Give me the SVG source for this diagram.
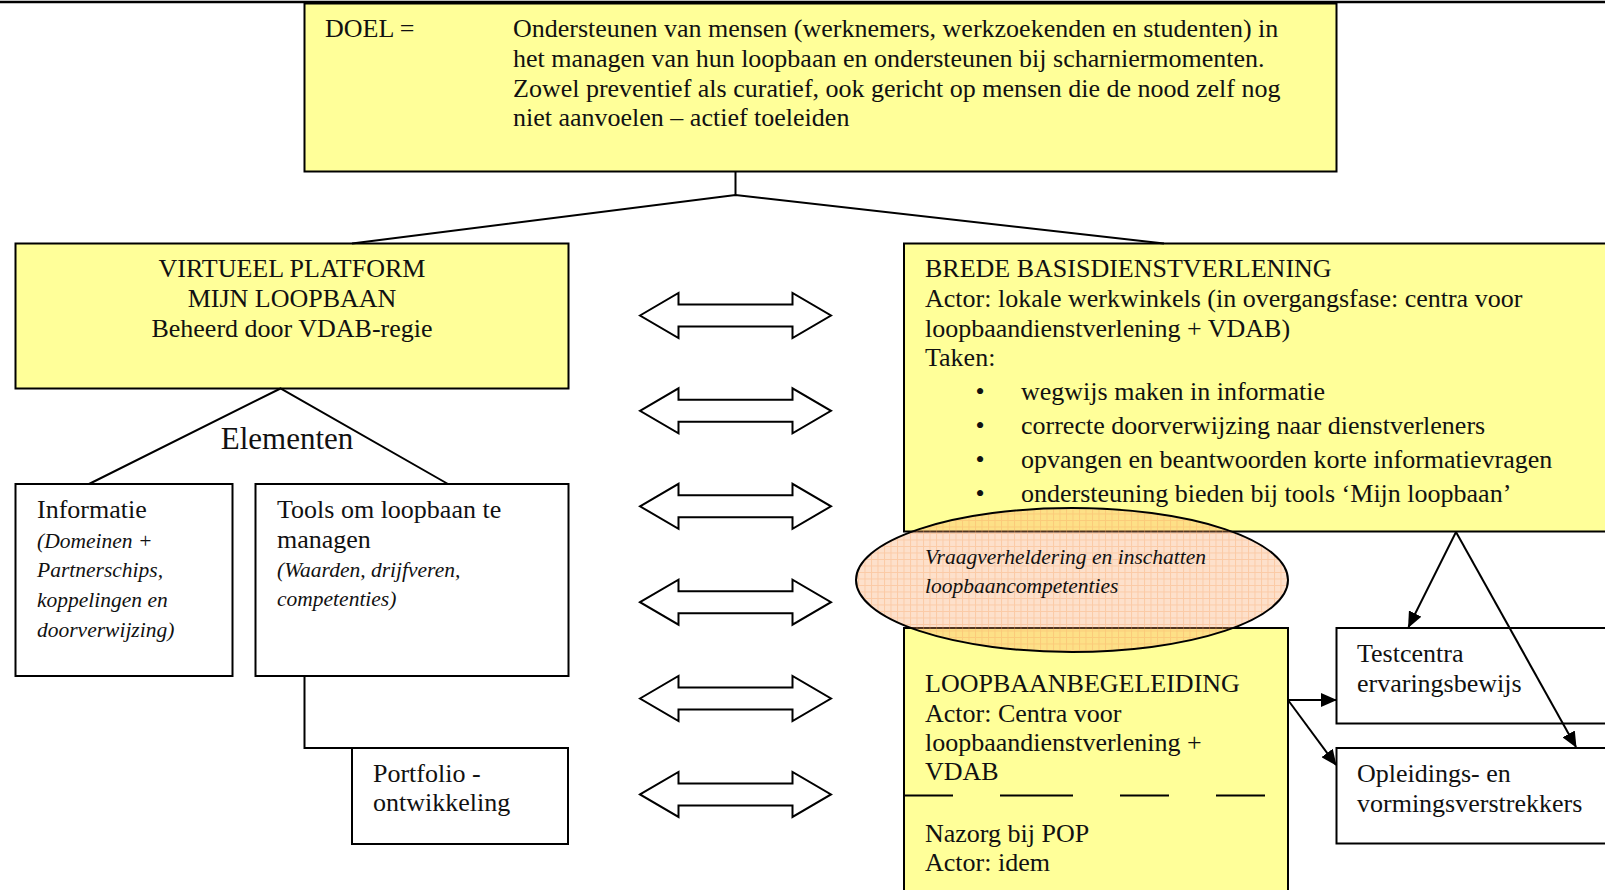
<svg xmlns="http://www.w3.org/2000/svg" width="1605" height="890" viewBox="0 0 1605 890">
<style>
text{font-family:"Liberation Serif","Times New Roman",serif;font-size:26px;fill:#111}
.it{font-style:italic;font-size:21.5px}
.box{stroke:#000;stroke-width:2}
.yel{fill:#FFFF99}
.wht{fill:#fff}
.ln{stroke:#000;stroke-width:2;fill:none}
.dbl{fill:#fff;stroke:#000;stroke-width:2;stroke-linejoin:miter}
</style>
<defs>
<pattern id="grid" width="6.5" height="6.5" patternUnits="userSpaceOnUse">
<rect width="6.5" height="6.5" fill="#F8A060" fill-opacity="0.33"/>
<path d="M0,0.5H6.5M0.5,0V6.5" stroke="#F8A060" stroke-opacity="0.35" stroke-width="1"/>
</pattern>
<marker id="ah" markerUnits="userSpaceOnUse" markerWidth="16" markerHeight="14" refX="15" refY="7" orient="auto">
<path d="M0,0L16,7L0,14Z" fill="#000"/>
</marker>
<path id="dblp" d="M640,0L678.5,-22.5L678.5,-11L792.5,-11L792.5,-22.5L831,0L792.5,22.5L792.5,11L678.5,11L678.5,22.5Z"/>
</defs>
<line x1="0" y1="2" x2="1605" y2="2" stroke="#000" stroke-width="2.5"/>
<g id="doel">
<rect class="box yel" x="304.5" y="3.5" width="1032" height="168"/>
<text x="325" y="37">DOEL =</text>
<text x="513" y="37">Ondersteunen van mensen (werknemers, werkzoekenden en studenten) in</text>
<text x="513" y="67">het managen van hun loopbaan en ondersteunen bij scharniermomenten.</text>
<text x="513" y="96.5">Zowel preventief als curatief, ook gericht op mensen die de nood zelf nog</text>
<text x="513" y="126">niet aanvoelen – actief toeleiden</text>
</g>
<g id="virtueel-platform">
<rect class="box yel" x="15.5" y="243.5" width="553" height="145"/>
<text x="292" y="277" text-anchor="middle">VIRTUEEL PLATFORM</text>
<text x="292" y="307" text-anchor="middle">MIJN LOOPBAAN</text>
<text x="292" y="337" text-anchor="middle">Beheerd door VDAB-regie</text>
</g>
<g id="elementen-label">
<text x="287" y="449" text-anchor="middle" style="font-size:31px">Elementen</text>
</g>
<g id="informatie">
<rect class="box wht" x="15.5" y="484" width="217" height="192"/>
<text x="37" y="518">Informatie</text>
<text class="it" x="37" y="547.5">(Domeinen +</text>
<text class="it" x="37" y="577">Partnerschips,</text>
<text class="it" x="37" y="607">koppelingen en</text>
<text class="it" x="37" y="637">doorverwijzing)</text>
</g>
<g id="tools">
<rect class="box wht" x="255.5" y="484" width="313" height="192"/>
<text x="277" y="518">Tools om loopbaan te</text>
<text x="277" y="547.5">managen</text>
<text class="it" x="277" y="577">(Waarden, drijfveren,</text>
<text class="it" x="277" y="606">competenties)</text>
</g>
<g id="portfolio">
<rect class="box wht" x="352" y="748" width="216" height="96"/>
<text x="373" y="782">Portfolio -</text>
<text x="373" y="811">ontwikkeling</text>
</g>
<g id="brede-basisdienstverlening">
<rect class="box yel" x="904" y="243.5" width="720" height="288"/>
<text x="925" y="277">BREDE BASISDIENSTVERLENING</text>
<text x="925" y="307">Actor: lokale werkwinkels (in overgangsfase: centra voor</text>
<text x="925" y="337">loopbaandienstverlening + VDAB)</text>
<text x="925" y="365.5">Taken:</text>
<text x="980" y="400" text-anchor="middle">•</text>
<text x="1021" y="400">wegwijs maken in informatie</text>
<text x="980" y="434" text-anchor="middle">•</text>
<text x="1021" y="434">correcte doorverwijzing naar dienstverleners</text>
<text x="980" y="467.5" text-anchor="middle">•</text>
<text x="1021" y="467.5">opvangen en beantwoorden korte informatievragen</text>
<text x="980" y="501.5" text-anchor="middle">•</text>
<text x="1021" y="501.5">ondersteuning bieden bij tools ‘Mijn loopbaan’</text>
</g>
<g id="loopbaanbegeleiding">
<rect class="box yel" x="904" y="628" width="384" height="280"/>
<text x="925" y="692">LOOPBAANBEGELEIDING</text>
<text x="925" y="722">Actor: Centra voor</text>
<text x="925" y="751">loopbaandienstverlening +</text>
<text x="925" y="780">VDAB</text>
<path d="M904,795.5H953M1000,795.5H1073M1120,795.5H1169M1216,795.5H1265" stroke="#000" stroke-width="2"/>
<text x="925" y="842">Nazorg bij POP</text>
<text x="925" y="871">Actor: idem</text>
</g>
<g id="vraagverheldering">
<ellipse cx="1072" cy="580" rx="216" ry="72" fill="url(#grid)" stroke="#000" stroke-width="2"/>
<text class="it" x="925" y="563.5">Vraagverheldering en inschatten</text>
<text class="it" x="925" y="592.5">loopbaancompetenties</text>
</g>
<g id="testcentra">
<rect class="box wht" x="1336.5" y="628" width="290" height="95.5"/>
<text x="1357" y="662">Testcentra</text>
<text x="1357" y="692">ervaringsbewijs</text>
</g>
<g id="opleidings">
<rect class="box wht" x="1336.5" y="748" width="290" height="95.5"/>
<text x="1357" y="782">Opleidings- en</text>
<text x="1357" y="812">vormingsverstrekkers</text>
</g>
<g id="connectors">
<polyline class="ln" points="735.5,172 735.5,195"/>
<polyline class="ln" points="352,243.5 735.5,195 1164,243.5"/>
<polyline class="ln" points="89,484 280.5,388.5 448,484"/>
<polyline class="ln" points="304.5,676 304.5,748 352,748"/>
<line class="ln" x1="1456" y1="532" x2="1408.5" y2="627" marker-end="url(#ah)"/>
<line class="ln" x1="1456" y1="532" x2="1576" y2="747" marker-end="url(#ah)"/>
<line class="ln" x1="1288" y1="700" x2="1336" y2="700" marker-end="url(#ah)"/>
<line class="ln" x1="1288" y1="700" x2="1336" y2="765" marker-end="url(#ah)"/>
<use href="#dblp" class="dbl" y="315.5"/>
<use href="#dblp" class="dbl" y="410.8"/>
<use href="#dblp" class="dbl" y="506.3"/>
<use href="#dblp" class="dbl" y="602.2"/>
<use href="#dblp" class="dbl" y="698.5"/>
<use href="#dblp" class="dbl" y="794.4"/>
</g>
</svg>
